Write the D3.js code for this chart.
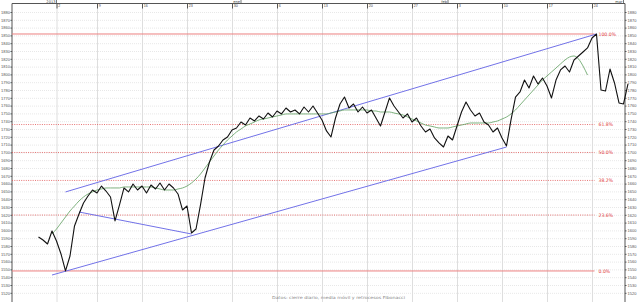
<!DOCTYPE html>
<html><head><meta charset="utf-8">
<script src="https://cdn.jsdelivr.net/npm/d3@7"></script>
<style>html,body{margin:0;padding:0;background:#fff;}svg{display:block;font-family:"DejaVu Sans",sans-serif;}</style>
</head><body><svg id="c" width="640" height="302"></svg>
<script>
// ---- data ----
const prices = [1591.6,1587.7,1582.6,1599.3,1586.4,1569.8,1548.0,1567.2,1605.7,1621.1,
 1635.2,1644.1,1651.8,1648.0,1656.9,1650.5,1642.8,1612.1,1632.6,1654.4,
 1649.3,1659.5,1651.8,1656.9,1648.0,1658.2,1653.1,1660.8,1651.8,1659.5,
 1654.4,1646.7,1626.2,1631.3,1596.7,1601.8,1632.6,1667.2,1687.7,1703.1,
 1708.2,1715.9,1719.8,1728.7,1731.3,1739.0,1735.1,1744.1,1740.3,1746.7,
 1742.8,1750.5,1745.4,1753.1,1749.3,1756.9,1751.8,1754.4,1749.3,1758.2,
 1751.8,1759.5,1750.5,1741.6,1727.5,1719.8,1744.1,1762.1,1771.0,1756.9,
 1762.1,1751.8,1758.2,1750.5,1754.4,1744.1,1733.9,1751.8,1769.8,1759.5,
 1751.8,1744.1,1749.3,1739.0,1744.1,1733.9,1726.2,1730.0,1718.5,1712.1,
 1706.9,1721.0,1715.9,1733.9,1751.8,1764.6,1754.4,1746.7,1750.5,1739.0,
 1735.1,1726.2,1731.3,1718.5,1708.2,1741.6,1771.0,1777.5,1792.8,1782.6,
 1798.0,1787.7,1795.4,1785.1,1769.8,1792.8,1805.7,1810.8,1803.1,1818.5,
 1823.6,1828.7,1833.9,1846.7,1851.8,1780.0,1778.7,1806.9,1789.0,1763.4,
 1762.1,1787.7];
const movingAvg = [null,null,null,
 1595.4,1601.8,1609.5,1617.2,1624.9,1631.3,1637.7,1642.8,1646.7,1649.3,
 1651.8,1653.1,1654.4,1654.4,1654.4,1654.4,1655.7,1655.7,1655.7,1655.7,
 1655.7,1655.7,1655.7,1654.4,1653.1,1651.8,1651.8,1651.8,1653.1,1654.4,
 1656.9,1660.8,1665.9,1672.3,1680.0,1687.7,1695.4,1703.1,1709.5,1715.9,
 1721.0,1726.2,1730.0,1733.9,1736.4,1739.0,1741.6,1742.8,1744.1,1745.4,
 1746.7,1748.0,1749.3,1749.3,1749.3,1749.3,1749.3,1749.3,1749.3,1749.3,
 1749.3,1749.3,1750.5,1751.8,1753.1,1754.4,1754.4,1754.4,1754.4,1754.4,
 1754.4,1753.1,1753.1,1751.8,1751.8,1751.8,1750.5,1749.3,1748.0,1745.4,
 1742.8,1740.3,1737.7,1735.1,1733.9,1732.6,1731.3,1731.3,1731.3,1732.6,
 1733.9,1735.1,1736.4,1737.7,1737.7,1737.7,1737.7,1737.7,1739.0,1740.3,
 1742.8,1745.4,1749.3,1754.4,1760.8,1767.2,1773.6,1780.0,1786.4,1792.8,
 1798.0,1803.1,1808.2,1813.4,1818.5,1822.3,1823.6,1819.8,1810.8,1799.2,
 null,null,null,null,null,null,null,null,null];
const weekTicks  = [4,13,23,33,43,53,63,73,83,93,103,113,123];
const weekLabels = ["2","9","16","23","30","6","13","20","27","3","10","17","24"];
const monthTicks  = [4,45,91,130];
const monthLabels = ["2013","ene","feb","mar"];
const fibLevels = [0,0.236,0.382,0.5,0.618,1];
const channelUpper = [[6,1649.3],[124,1851.8]];
const channelLower = [[3,1542.8],[104,1706.9]];
const supportLine  = [[9,1623.6],[34,1595.4]];
const yTicks = d3.range(1520,1881,10);
const caption = "Datos: cierre diario, media móvil y retrocesos Fibonacci";

// ---- layout ----
const W=640,H=302, L=12, R=625, T=3.5, B=302;
const svg=d3.select("#c");
const x=d3.scaleLinear().domain([0,prices.length-1]).range([38.5,628]);
const y=d3.scaleLinear().domain([1520,1880]).range([292.8,12]);

// horizontal grid
svg.append("g").attr("transform",`translate(${L},0)`)
 .call(d3.axisLeft(y).tickValues(yTicks).tickSize(-(R-L)).tickFormat(""))
 .call(g=>g.select(".domain").remove())
 .call(g=>g.selectAll("line").attr("stroke","#e8e8e8").attr("stroke-dasharray","1,1"));
// vertical grid
svg.append("g").attr("transform",`translate(0,${T})`)
 .call(d3.axisBottom(x).tickValues(weekTicks).tickSize(B-T).tickFormat(""))
 .call(g=>g.select(".domain").remove())
 .call(g=>g.selectAll("line").attr("stroke","#dedede"));

// top axis
const topAxis=svg.append("g").attr("transform",`translate(0,${T})`)
 .call(d3.axisBottom(x).tickValues(weekTicks).tickSize(5).tickSizeOuter(0).tickFormat((d,i)=>weekLabels[i]));
topAxis.select(".domain").attr("d",`M${L},0H${R}`).attr("stroke","#555");
topAxis.selectAll("line").attr("stroke","#555");
topAxis.selectAll("text").attr("y",3.6).attr("dy",0).attr("x",1.2).attr("text-anchor","start")
 .attr("font-size","3.6px").attr("fill","#444");
// month separators
const mg=svg.append("g");
mg.selectAll("line").data(monthTicks).join("line")
 .attr("x1",d=>x(d)).attr("x2",d=>x(d)).attr("y1",0).attr("y2",T).attr("stroke","#555").attr("stroke-width",0.8);
mg.selectAll("text").data(monthTicks).join("text")
 .attr("x",d=>x(d)-1).attr("y",2.8).attr("text-anchor","end").attr("font-size","3.6px").attr("fill","#444")
 .text((d,i)=>monthLabels[i]);

// left & right axes
const fmt=d3.format("d");
const la=svg.append("g").attr("transform",`translate(${L},0)`)
 .call(d3.axisLeft(y).tickValues(yTicks).tickSize(1.5).tickSizeOuter(0).tickFormat(fmt));
la.select(".domain").attr("d",`M0,${T}V${B}`).attr("stroke","#555");
la.selectAll("line").attr("stroke","#555");
la.selectAll("text").attr("x",-2).attr("font-size","4px").attr("fill","#555");
const ra=svg.append("g").attr("transform",`translate(${R},0)`)
 .call(d3.axisRight(y).tickValues(yTicks).tickSize(1.5).tickSizeOuter(0).tickFormat(fmt));
ra.select(".domain").attr("d",`M0,${T}V${B}`).attr("stroke","#555");
ra.selectAll("line").attr("stroke","#555");
ra.selectAll("text").attr("x",2.5).attr("font-size","4px").attr("fill","#555");

// fibonacci levels
const lo=d3.min(prices), hi=d3.max(prices), hiIdx=prices.indexOf(hi);
const fg=svg.append("g");
fibLevels.forEach(f=>{
  const v=lo+(hi-lo)*f, yy=y(v);
  const solid=(f===0||f===1);
  fg.append("line").attr("x1",L).attr("x2",x(hiIdx)-2).attr("y1",yy).attr("y2",yy)
    .attr("stroke",solid?"#ec8080":"#e05050").attr("stroke-width",solid?1:0.8)
    .attr("stroke-dasharray",solid?null:"1,1.3");
  fg.append("text").attr("x",x(hiIdx)+2).attr("y",yy+1.6).attr("font-size","4.6px")
    .attr("fill","#e03a3a").text(d3.format(".1%")(f));
});

// channel lines
[channelUpper,channelLower,supportLine].forEach(seg=>{
  svg.append("line").attr("x1",x(seg[0][0])).attr("y1",y(seg[0][1]))
   .attr("x2",x(seg[1][0])).attr("y2",y(seg[1][1]))
   .attr("stroke","#7272e8").attr("stroke-width",1);
});

// moving average
svg.append("path").datum(movingAvg)
 .attr("d",d3.line().defined(d=>d!=null).x((d,i)=>x(i)).y(d=>y(d)).curve(d3.curveMonotoneX))
 .attr("fill","none").attr("stroke","#5e9e5e").attr("stroke-width",0.8);

// price
svg.append("path").datum(prices)
 .attr("d",d3.line().x((d,i)=>x(i)).y(d=>y(d)))
 .attr("fill","none").attr("stroke","#111").attr("stroke-width",1.1).attr("stroke-linejoin","round");

// caption
svg.append("text").attr("x",272).attr("y",299).attr("font-size","4px").attr("fill","#888")
 .attr("textLength",133).attr("lengthAdjust","spacingAndGlyphs").text(caption);
</script></body></html>
